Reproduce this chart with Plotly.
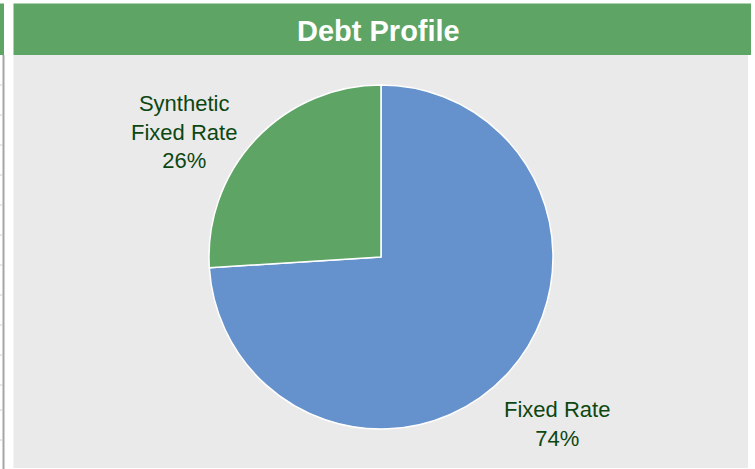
import plotly.graph_objects as go

categories = ["Fixed Rate", "Synthetic Fixed Rate"]
values = [74, 26]
label_lines = [["Fixed Rate"], ["Synthetic", "Fixed Rate"]]
colors = ["#6592CD", "#5EA465"]
title = "Debt Profile"

W, H = 755, 469

def px(x):
    return x / W

def py(y):
    return 1 - y / H

fig = go.Figure()
fig.add_trace(go.Pie(
    labels=categories,
    values=values,
    sort=False,
    direction="clockwise",
    rotation=0,
    textinfo="none",
    hoverinfo="label+percent",
    marker=dict(colors=colors, line=dict(color="white", width=1.5)),
    domain=dict(x=[px(209), px(553)], y=[py(429), py(85)]),
    showlegend=False,
))

shapes = [
    # header bar
    dict(type="rect", xref="paper", yref="paper", x0=px(13.5), x1=px(751), y0=py(55), y1=py(3.5),
         fillcolor="#5EA465", line=dict(width=0), layer="below"),
    # panel
    dict(type="rect", xref="paper", yref="paper", x0=px(13.5), x1=px(748), y0=py(468), y1=py(55),
         fillcolor="#EAEAEA", line=dict(width=0), layer="below"),
    # left strip (spreadsheet edge)
    dict(type="rect", xref="paper", yref="paper", x0=0, x1=px(4), y0=py(55), y1=py(3.5),
         fillcolor="#5EA465", line=dict(width=0), layer="below"),
    dict(type="line", xref="paper", yref="paper", x0=px(3.5), x1=px(3.5), y0=py(469), y1=py(55),
         line=dict(color="#A6A6A6", width=2), layer="below"),
]
for yy in [85, 115, 145, 175, 205, 235, 265, 295, 325, 355, 385, 410, 440]:
    shapes.append(dict(type="line", xref="paper", yref="paper", x0=0, x1=px(3), y0=py(yy), y1=py(yy),
                       line=dict(color="#D0D0D0", width=1), layer="below"))

total = sum(values)
label_pos = [(557, 424), (184, 132)]
annotations = [
    dict(text="<b>" + title + "</b>", x=px(378.5), y=py(31), xref="paper", yref="paper",
         xanchor="center", yanchor="middle",
         showarrow=False, font=dict(family="Liberation Sans, Arial", size=29, color="white"))
]
for i, cat in enumerate(categories):
    pct = round(values[i] / total * 100)
    txt = "<br>".join(label_lines[i] + [f"{pct}%"])
    annotations.append(dict(text=txt, x=px(label_pos[i][0]), y=py(label_pos[i][1]), xref="paper", yref="paper",
                            xanchor="center", yanchor="middle",
                            showarrow=False, align="center",
                            font=dict(family="Liberation Sans, Arial", size=22, color="#0C4712")))

fig.update_layout(
    width=W, height=H,
    margin=dict(l=0, r=0, t=0, b=0),
    paper_bgcolor="white",
    plot_bgcolor="white",
    shapes=shapes,
    annotations=annotations,
)

fig.write_html("out.html", config={"displayModeBar": False},
               post_script="document.body.style.margin='0';")
